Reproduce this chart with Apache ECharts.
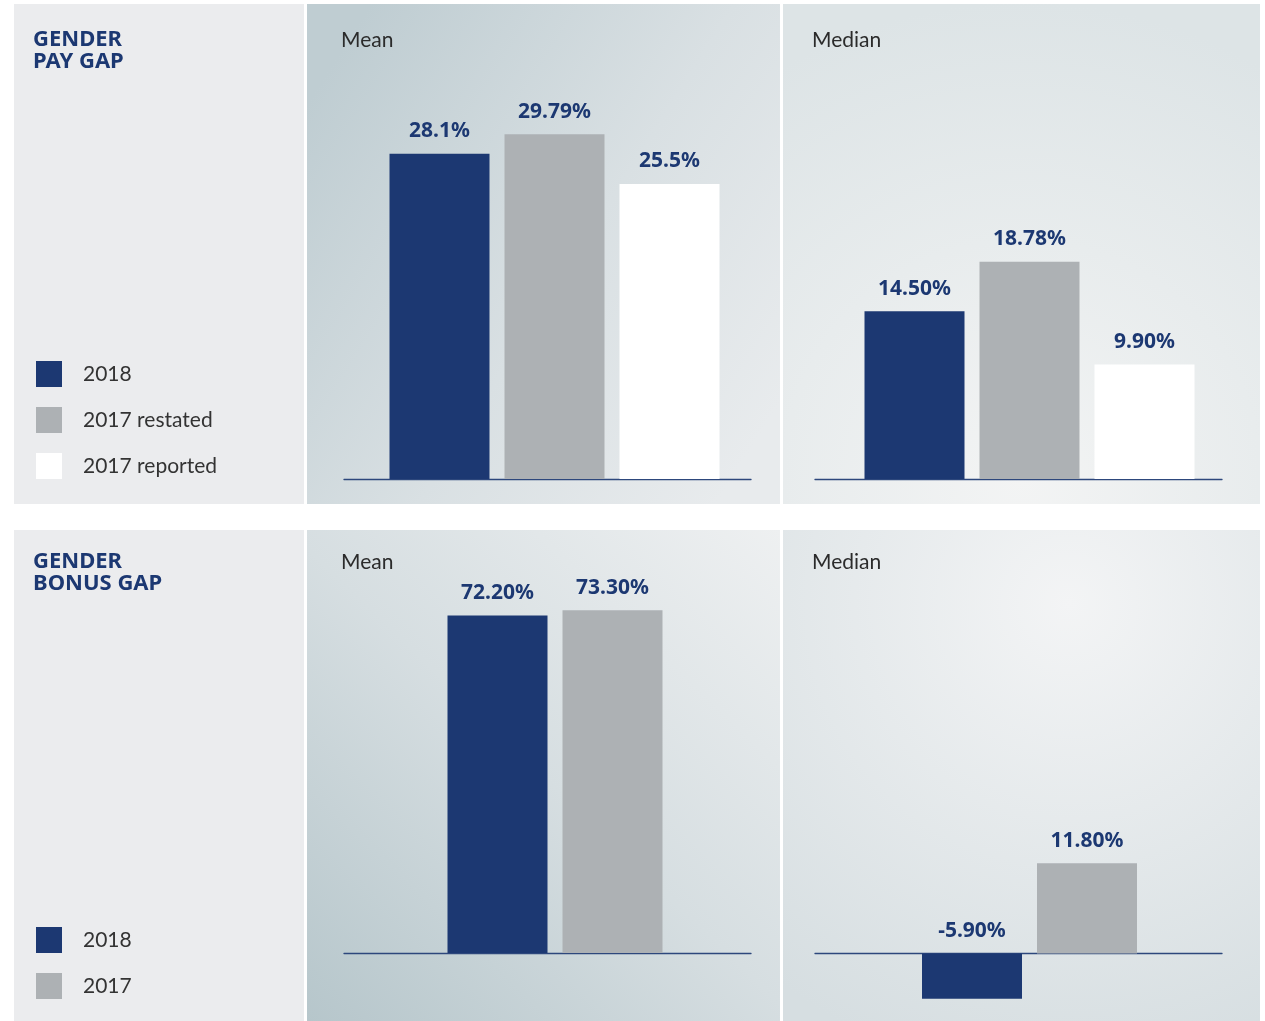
<!DOCTYPE html>
<html>
<head>
<meta charset="utf-8">
<script src="https://cdn.jsdelivr.net/npm/echarts@6.0.0/dist/echarts.min.js"></script>
<style>
  html, body { margin: 0; padding: 0; background: #fff; }
  #main { width: 1265px; height: 1021px; }
</style>
</head>
<body>
<div id="main"></div>
<script>
// data
var payNames = ['2018', '2017 restated', '2017 reported'];
var payMean = [28.1, 29.79, 25.5];
var payMeanText = ['28.1%', '29.79%', '25.5%'];
var payMedian = [14.50, 18.78, 9.90];
var payMedianText = ['14.50%', '18.78%', '9.90%'];

var bonusNames = ['2018', '2017'];
var bonusMean = [72.20, 73.30];
var bonusMeanText = ['72.20%', '73.30%'];
var bonusMedian = [-5.90, 11.80];
var bonusMedianText = ['-5.90%', '11.80%'];

var barColors = ['#1c3872', '#adb1b4', '#ffffff'];
var navy = '#1c3872';
var fontFam = 'Lato, "Noto Sans", sans-serif';
var boldFam = '"Noto Sans", Lato, sans-serif';

var myChart = echarts.init(document.getElementById('main'));

// panels: bar grid + baseline grid for each
var panels = [
    { barLeft: 380, lineLeft: 344, top: 74, height: 405, min: 0, max: 35 },
    { barLeft: 855, lineLeft: 815, top: 74, height: 405, min: 0, max: 35 },
    { barLeft: 380.5, lineLeft: 344, top: 579, height: 374, min: 0, max: 80 },
    { barLeft: 855, lineLeft: 815, top: 647.5, height: 352, min: -6, max: 40 }
];

var grids = [], xAxes = [], yAxes = [];
panels.forEach(function (p) {
    // bars
    grids.push({ left: p.barLeft, width: 349, top: p.top, height: p.height });
    xAxes.push({ type: 'category', gridIndex: grids.length - 1, data: [''], show: false });
    yAxes.push({ type: 'value', gridIndex: grids.length - 1, min: p.min, max: p.max, show: false });
    // baseline
    grids.push({ left: p.lineLeft, width: 407, top: p.top, height: p.height });
    xAxes.push({
        type: 'category', gridIndex: grids.length - 1, data: [''],
        axisLine: { show: true, onZero: true, lineStyle: { color: '#2d477c', width: 1.3 } },
        axisTick: { show: false }, axisLabel: { show: false }, splitLine: { show: false }
    });
    yAxes.push({ type: 'value', gridIndex: grids.length - 1, min: p.min, max: p.max, show: false });
});

function makeSeries(names, values, texts, axisIdx) {
    return names.map(function (n, i) {
        return {
            name: n,
            type: 'bar',
            xAxisIndex: axisIdx,
            yAxisIndex: axisIdx,
            barWidth: 100,
            barGap: '15%',
            itemStyle: { color: barColors[i] },
            label: {
                show: true,
                position: 'top',
                distance: 12,
                formatter: texts[i],
                color: navy,
                fontSize: 21,
                fontWeight: 'bold',
                fontFamily: boldFam
            },
            data: [values[i]]
        };
    });
}

var series = [].concat(
    makeSeries(payNames, payMean, payMeanText, 0),
    makeSeries(payNames, payMedian, payMedianText, 2),
    makeSeries(bonusNames, bonusMean, bonusMeanText, 4),
    makeSeries(bonusNames, bonusMedian, bonusMedianText, 6)
);

// backgrounds
var topMidFill = {
    type: 'linear', x: 0, y: 0.2, x2: 1, y2: 0.8,
    colorStops: [{ offset: 0, color: '#bfcdd2' }, { offset: 0.55, color: '#d9e0e3' }, { offset: 1, color: '#e8ebed' }]
};
var botMidFill = {
    type: 'linear', x: 0, y: 1, x2: 1, y2: 0,
    colorStops: [{ offset: 0, color: '#b6c6cb' }, { offset: 0.5, color: '#d6dee1' }, { offset: 1, color: '#eef0f1' }]
};
var topRightFill = {
    type: 'radial', x: 0.5, y: 0.95, r: 1,
    colorStops: [{ offset: 0, color: '#f3f4f4' }, { offset: 1, color: '#dde4e6' }]
};
var botRightFill = {
    type: 'radial', x: 0.6, y: 0.15, r: 1,
    colorStops: [{ offset: 0, color: '#f3f4f5' }, { offset: 1, color: '#d6dee1' }]
};

function txt(x, y, s, size, weight, color, fam, lh) {
    return {
        type: 'text', left: x, top: y, z: 5,
        style: { text: s, fontSize: size, fontWeight: weight, fill: color, fontFamily: fam, lineHeight: lh || size + 2 }
    };
}

var option = {
    backgroundColor: '#ffffff',
    animation: false,
    graphic: [
        { type: 'rect', shape: { x: 14, y: 4, width: 290, height: 500 }, style: { fill: '#ebecee' }, z: -10 },
        { type: 'rect', shape: { x: 307, y: 4, width: 473, height: 500 }, style: { fill: topMidFill }, z: -10 },
        { type: 'rect', shape: { x: 783, y: 4, width: 477, height: 500 }, style: { fill: topRightFill }, z: -10 },
        { type: 'rect', shape: { x: 14, y: 530, width: 290, height: 491 }, style: { fill: '#ebecee' }, z: -10 },
        { type: 'rect', shape: { x: 307, y: 530, width: 473, height: 491 }, style: { fill: botMidFill }, z: -10 },
        { type: 'rect', shape: { x: 783, y: 530, width: 477, height: 491 }, style: { fill: botRightFill }, z: -10 },
        txt(33, 29, 'GENDER\nPAY GAP', 22, 'bold', navy, boldFam, 22),
        txt(33, 551, 'GENDER\nBONUS GAP', 22, 'bold', navy, boldFam, 22),
        txt(341, 29, 'Mean', 21, 'normal', '#2b2b2b', fontFam),
        txt(812, 29, 'Median', 21, 'normal', '#2b2b2b', fontFam),
        txt(341, 551, 'Mean', 21, 'normal', '#2b2b2b', fontFam),
        txt(812, 551, 'Median', 21, 'normal', '#2b2b2b', fontFam)
    ],
    legend: [{
        data: payNames,
        orient: 'vertical',
        left: 36, top: 361,
        padding: 0,
        itemWidth: 26, itemHeight: 26, itemGap: 20,
        icon: 'rect',
        selectedMode: false,
        textStyle: { fontSize: 21, color: '#333', fontFamily: fontFam, padding: [0, 0, 0, 16] }
    }, {
        data: bonusNames,
        orient: 'vertical',
        left: 36, top: 927,
        padding: 0,
        itemWidth: 26, itemHeight: 26, itemGap: 20,
        icon: 'rect',
        selectedMode: false,
        textStyle: { fontSize: 21, color: '#333', fontFamily: fontFam, padding: [0, 0, 0, 16] }
    }],
    grid: grids,
    xAxis: xAxes,
    yAxis: yAxes,
    series: series
};

myChart.setOption(option);
</script>
</body>
</html>
